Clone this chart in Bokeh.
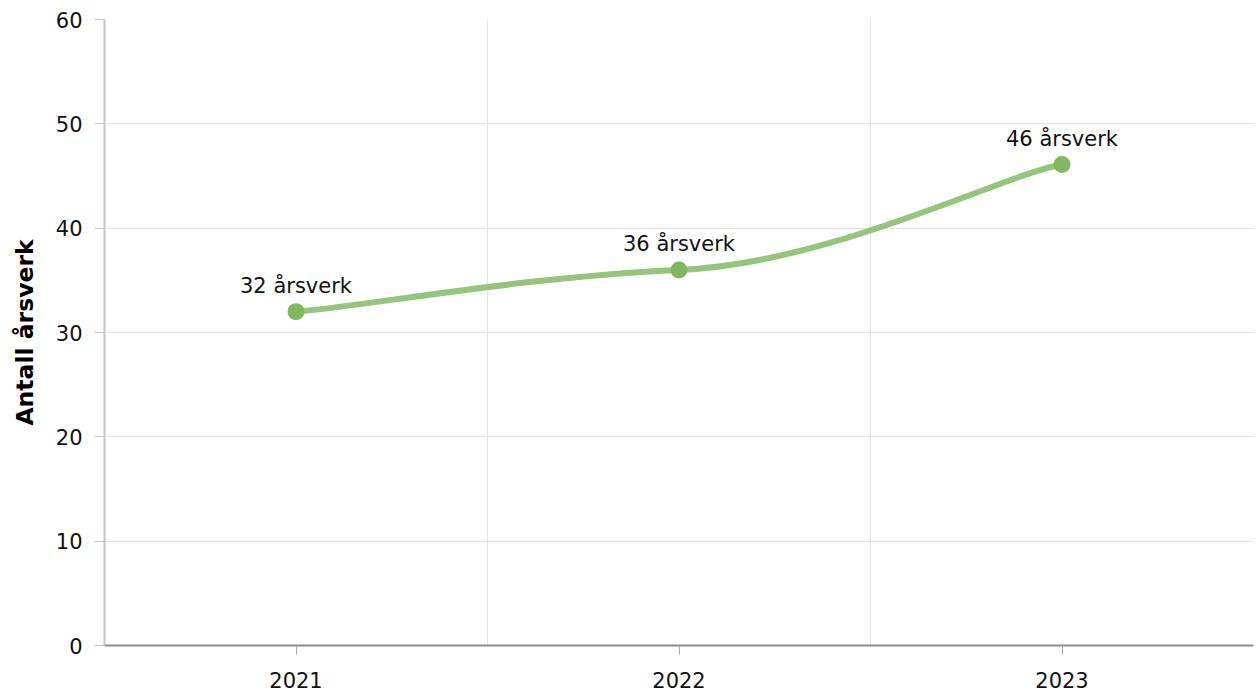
from bokeh.plotting import figure
from bokeh.models import FixedTicker, Range1d, ColumnDataSource
from bokeh.core.properties import value
from bokeh.embed import file_html
from bokeh.resources import INLINE

# ---- data ----
years = ["2021", "2022", "2023"]
aarsverk = [32, 36, 46.1]
y_ticks = [0, 10, 20, 30, 40, 50, 60]
y_title = "Antall årsverk"
unit = "årsverk"

xs = list(range(len(years)))

# ---- smoothing style (curve shape parameters) ----
END_TANGENT = 0.6     # endpoint tangent as fraction of adjacent chord slope
MID_TANGENT = 0.375   # interior tangent as fraction of the flatter chord slope
END_ARM = 0.15        # control-arm length at endpoints (fraction of dx)
MID_ARM = 0.4         # control-arm length at interior points (fraction of dx)


def smooth_segments(xv, yv):
    n = len(xv)
    slopes = [(yv[i + 1] - yv[i]) / (xv[i + 1] - xv[i]) for i in range(n - 1)]
    tang, arm = [], []
    for i in range(n):
        if i == 0:
            tang.append(END_TANGENT * slopes[0]); arm.append(END_ARM)
        elif i == n - 1:
            tang.append(END_TANGENT * slopes[-1]); arm.append(END_ARM)
        else:
            s0, s1 = slopes[i - 1], slopes[i]
            if s0 * s1 <= 0:
                tang.append(0.0)
            else:
                m = min(abs(s0), abs(s1))
                tang.append(MID_TANGENT * m * (1 if s0 > 0 else -1))
            arm.append(MID_ARM)
    seg = dict(x0=[], y0=[], x1=[], y1=[], cx0=[], cy0=[], cx1=[], cy1=[])
    for i in range(n - 1):
        dx = xv[i + 1] - xv[i]
        a0 = arm[i] * dx
        a1 = arm[i + 1] * dx
        seg["x0"].append(xv[i]); seg["y0"].append(yv[i])
        seg["x1"].append(xv[i + 1]); seg["y1"].append(yv[i + 1])
        seg["cx0"].append(xv[i] + a0); seg["cy0"].append(yv[i] + a0 * tang[i])
        seg["cx1"].append(xv[i + 1] - a1); seg["cy1"].append(yv[i + 1] - a1 * tang[i + 1])
    return seg


FONT = "DejaVu Sans"

p = figure(width=1256, height=693, output_backend="svg", toolbar_location=None,
           x_range=Range1d(-0.5, len(years) - 0.5), y_range=Range1d(0, 60),
           min_border_left=104, min_border_right=3, min_border_top=19,
           min_border_bottom=48)
p.outline_line_color = None
p.background_fill_color = "white"
p.border_fill_color = "white"

# grids
p.xgrid.ticker = FixedTicker(ticks=[i + 0.5 for i in xs])
p.xgrid.grid_line_color = "#e3e3e3"
p.xgrid.grid_line_width = 1
p.ygrid.ticker = FixedTicker(ticks=y_ticks)
p.ygrid.grid_line_color = "#e3e3e3"
p.ygrid.grid_line_width = 1

# x axis
p.xaxis.ticker = FixedTicker(ticks=xs)
p.xaxis.major_label_overrides = {i: y for i, y in zip(xs, years)}
p.xaxis.minor_tick_line_color = None
p.xaxis.axis_line_color = "#8c8c8c"
p.xaxis.axis_line_width = 2
p.xaxis.major_tick_line_color = "#aaaaaa"
p.xaxis.major_tick_out = 9
p.xaxis.major_tick_in = 0
p.xaxis.major_label_standoff = 17
p.xaxis.major_label_text_font = FONT
p.xaxis.major_label_text_font_size = "21px"
p.xaxis.major_label_text_color = "#111111"

# y axis
p.yaxis.ticker = FixedTicker(ticks=y_ticks)
p.yaxis.minor_tick_line_color = None
p.yaxis.axis_line_color = "#c4c4c4"
p.yaxis.axis_line_width = 2
p.yaxis.major_tick_line_color = "#c4c4c4"
p.yaxis.major_tick_out = 10
p.yaxis.major_tick_in = 0
p.yaxis.major_label_standoff = 12
p.yaxis.major_label_text_font = FONT
p.yaxis.major_label_text_font_size = "21px"
p.yaxis.major_label_text_color = "#111111"
p.yaxis.axis_label = y_title
p.yaxis.axis_label_text_font = FONT
p.yaxis.axis_label_text_font_style = "bold"
p.yaxis.axis_label_text_font_size = "23.5px"
p.yaxis.axis_label_text_color = "#000000"
p.yaxis.axis_label_standoff = 14

# smoothed line
seg = smooth_segments(xs, aarsverk)
p.bezier(x0="x0", y0="y0", x1="x1", y1="y1", cx0="cx0", cy0="cy0",
         cx1="cx1", cy1="cy1", source=ColumnDataSource(seg),
         line_color="#95c57d", line_width=6, line_cap="round")

# points + labels
src = ColumnDataSource(dict(x=xs, y=aarsverk,
                            lab=[f"{round(v)} {unit}" for v in aarsverk]))
p.scatter("x", "y", source=src, size=17, fill_color="#80b75f",
          line_color="#80b75f", line_width=0)
p.text("x", "y", text="lab", source=src, text_align="center",
       text_baseline="alphabetic", y_offset=-26,
       text_font=value(FONT), text_font_size="21px", text_color="#111111")

open("out.html", "w").write(file_html(p, INLINE))
